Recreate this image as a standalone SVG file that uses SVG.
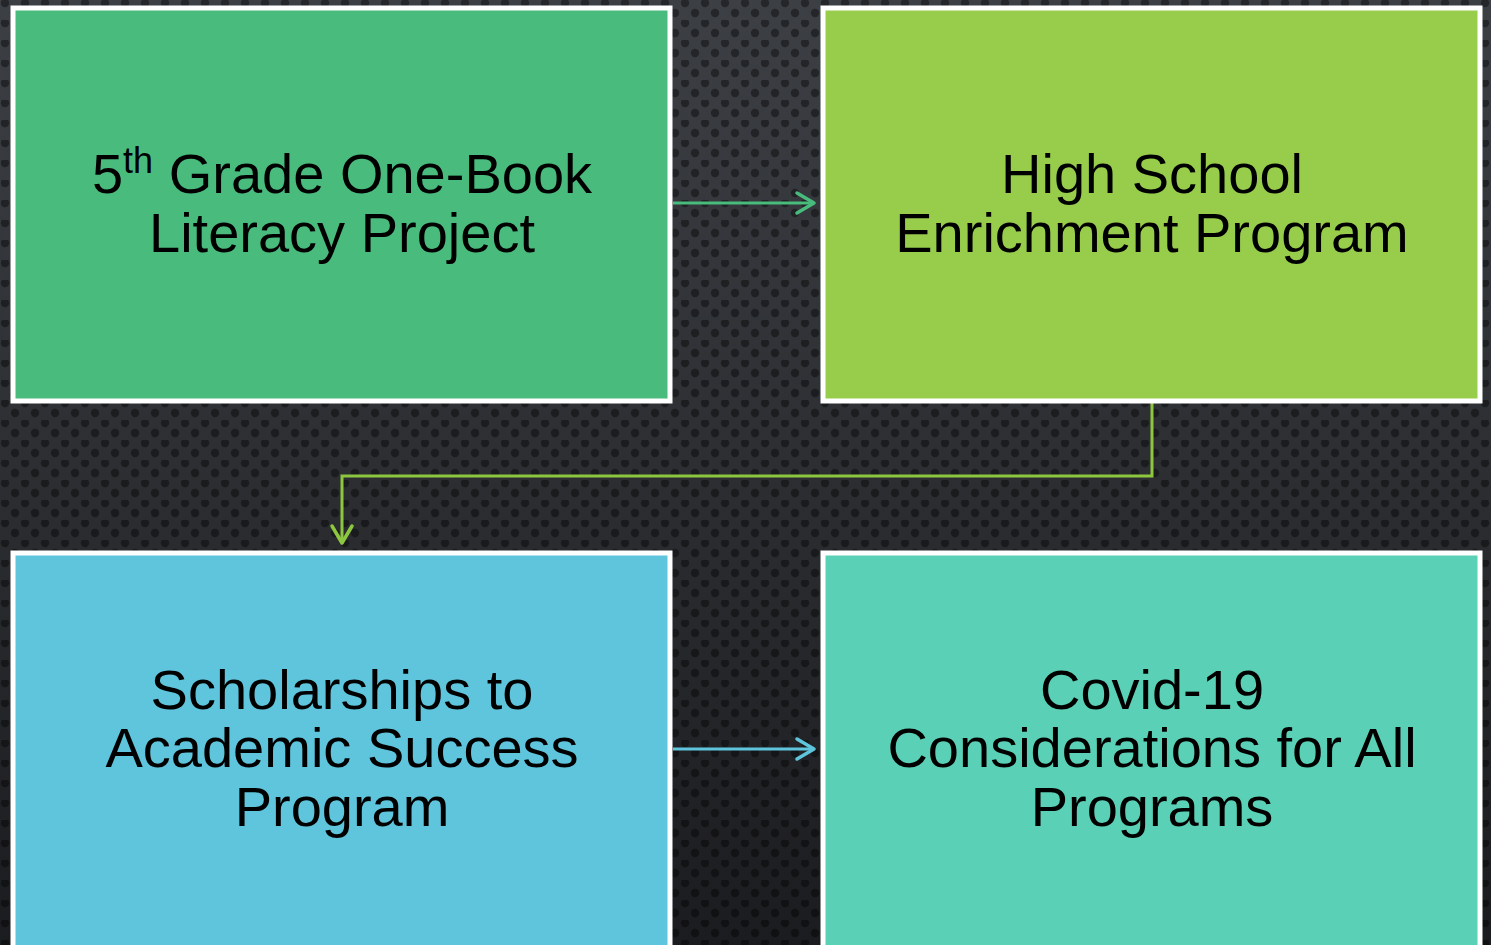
<svg xmlns="http://www.w3.org/2000/svg" width="1491" height="945" viewBox="0 0 1491 945">
<defs>
<linearGradient id="bg" x1="0" y1="0" x2="0" y2="1">
<stop offset="0" stop-color="#3c3f44"/>
<stop offset="0.5" stop-color="#2c2e32"/>
<stop offset="1" stop-color="#1b1c1f"/>
</linearGradient>
<pattern id="dots" x="0" y="0" width="20" height="20" patternUnits="userSpaceOnUse">
<circle cx="5" cy="3" r="4.2" fill="#000" fill-opacity="0.4"/>
<circle cx="15" cy="13" r="4.2" fill="#000" fill-opacity="0.4"/>
</pattern>
</defs>
<style>
.box{stroke:#ffffff;stroke-width:5}
.lbl{font-family:"Liberation Sans",Arial,sans-serif;font-size:56px;fill:#000;text-anchor:middle}
.conn{fill:none;stroke-width:3}
.head{fill:none;stroke-width:3.5;stroke-linecap:round;stroke-linejoin:round}
</style>
<rect x="0" y="0" width="1491" height="945" fill="url(#bg)"/>
<rect x="0" y="0" width="1491" height="945" fill="url(#dots)"/>
<g id="connectors">
<line class="conn" x1="673" y1="203" x2="813" y2="203" stroke="#48bb7d"/>
<polyline class="head" points="797,193 814,203 797,213" stroke="#48bb7d"/>
<polyline class="conn" points="1152,403 1152,476 342,476 342,542" stroke="#8dc63f"/>
<polyline class="head" points="332,526 342,543 352,526" stroke="#8dc63f"/>
<line class="conn" x1="673" y1="749" x2="813" y2="749" stroke="#5fc5dc"/>
<polyline class="head" points="797,739 814,749 797,759" stroke="#5fc5dc"/>
</g>
<g id="node1">
<rect class="box" x="13" y="8" width="657" height="393" fill="#48bb7d"/>
<text class="lbl" x="342" y="193">5<tspan font-size="36" dy="-20">th</tspan><tspan dy="20"> Grade One-Book</tspan></text>
<text class="lbl" x="342" y="252">Literacy Project</text>
</g>
<g id="node2">
<rect class="box" x="823" y="8" width="657" height="393" fill="#98cd4c"/>
<text class="lbl" x="1152" y="193">High School</text>
<text class="lbl" x="1152" y="252">Enrichment Program</text>
</g>
<g id="node3">
<rect class="box" x="13" y="553" width="657" height="400" fill="#5fc5dc"/>
<text class="lbl" x="342" y="709">Scholarships to</text>
<text class="lbl" x="342" y="767">Academic Success</text>
<text class="lbl" x="342" y="826">Program</text>
</g>
<g id="node4">
<rect class="box" x="823" y="553" width="657" height="400" fill="#5ad1b6"/>
<text class="lbl" x="1152" y="709">Covid-19</text>
<text class="lbl" x="1152" y="767">Considerations for All</text>
<text class="lbl" x="1152" y="826">Programs</text>
</g>
</svg>
